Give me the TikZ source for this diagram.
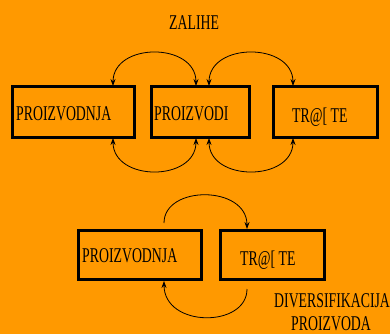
\documentclass[tikz,border=0pt]{standalone}
\usepackage{fontspec}
\newfontfamily\cond[FakeStretch=0.657]{Liberation Serif}
\usetikzlibrary{arrows.meta}
\definecolor{bgorange}{HTML}{FF9900}
\tikzset{
  box/.style={draw=black, line width=3pt, rectangle, inner sep=0pt, outer sep=0pt},
  lbl/.style={anchor=base west, inner sep=0pt, font=\cond\fontsize{21}{21}\selectfont},
  flow/.style={line width=0.8pt, draw=black},
  tip/.tip={Stealth[length=7pt,width=5pt,inset=2.5pt]}
}
\begin{document}
\begin{tikzpicture}[x=1pt,y=-1pt]
  \fill[bgorange] (0,0) rectangle (390,334);
  \useasboundingbox (0,0) rectangle (390,334);

  % upper row of boxes
  \node[box, minimum width=122pt, minimum height=50pt] (b1) at (73,112) {};
  \node[box, minimum width=98pt,  minimum height=50pt] (b2) at (200,112) {};
  \node[box, minimum width=104pt, minimum height=50pt] (b3) at (325,112) {};
  \node[lbl] (t1) at (16,120) {PROIZVODNJA};
  \node[lbl] (t2) at (154,120) {PROIZVODI};
  \node[lbl] (t3) at (292,122) {TR@[ TE};
  \node[lbl] (zal) at (169,30) {ZALIHE};

  % arcs above and below the upper row
  \draw[flow, tip-tip] ([xshift=40pt,yshift=1pt]b1.north) .. controls +(0,-44) and +(0,-44) .. ([xshift=-4pt,yshift=1pt]b2.north);
  \draw[flow, tip-tip] ([xshift=9pt,yshift=1pt]b2.north) .. controls +(0,-44) and +(0,-44) .. ([xshift=-32pt,yshift=1pt]b3.north);
  \draw[flow, tip-tip] ([xshift=40pt,yshift=-1pt]b1.south) .. controls +(0,44) and +(0,44) .. ([xshift=-4pt,yshift=-1pt]b2.south);
  \draw[flow, tip-tip] ([xshift=9pt,yshift=-1pt]b2.south) .. controls +(0,44) and +(0,44) .. ([xshift=-32pt,yshift=-1pt]b3.south);

  % lower pair of boxes
  \node[box, minimum width=123pt, minimum height=49pt] (c1) at (139.5,254.5) {};
  \node[box, minimum width=104pt, minimum height=49pt] (c2) at (272,254.5) {};
  \node[lbl] (u1) at (82,262) {PROIZVODNJA};
  \node[lbl] (u2) at (240,265) {TR@[ TE};
  \node[lbl] (div1) at (274,307) {DIVERSIFIKACIJA};
  \node[lbl] (div2) at (291,330) {PROIZVODA};

  % loop between the lower boxes
  \draw[flow, -tip] ([xshift=24.5pt,yshift=7pt]c1.north) .. controls +(0,-38) and +(0,-44) .. ([xshift=-25pt,yshift=1pt]c2.north);
  \draw[flow, -tip] ([xshift=-25pt,yshift=-10pt]c2.south) .. controls +(0,39) and +(0,47) .. ([xshift=24.5pt,yshift=-2pt]c1.south);
\end{tikzpicture}
\end{document}
